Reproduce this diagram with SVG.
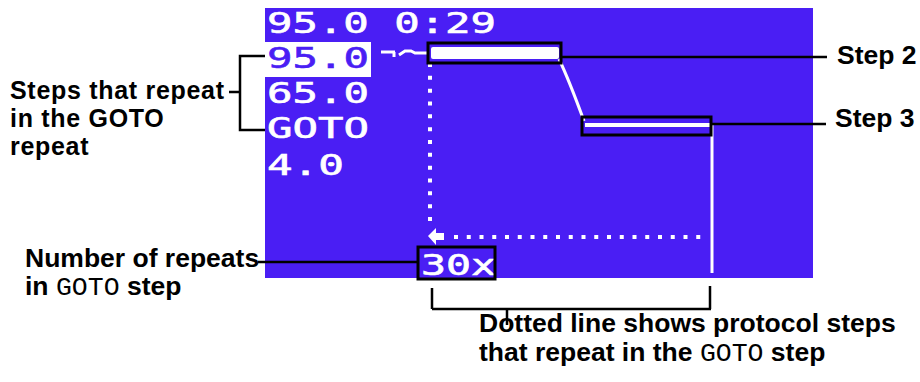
<svg xmlns="http://www.w3.org/2000/svg" width="920" height="382" viewBox="0 0 920 382">
<style>
.lbl{font-family:"Liberation Sans",Arial,sans-serif;font-weight:bold;font-size:26.5px;fill:#000}
.sm{font-size:25px;letter-spacing:0.7px}
.mono{font-family:"Liberation Mono","Courier New",monospace;font-weight:normal;font-size:26.5px;letter-spacing:0}
.lcd{font-family:"DejaVu Sans Mono",monospace;font-weight:normal;font-size:28px;fill:#fff;stroke:#fff;stroke-width:0.6}
.ln{stroke:#000;stroke-width:2.5;fill:none}
.box{stroke:#000;stroke-width:3;fill:none}
.w{stroke:#fff;fill:none}
</style>
<rect width="920" height="382" fill="#fff"/>
<g id="screen">
<rect x="265" y="8" width="548" height="270" fill="#4a1ef4"/>
<text class="lcd" x="267" y="33" textLength="229" lengthAdjust="spacingAndGlyphs">95.0 0:29</text>
<rect x="265" y="42" width="106" height="35" fill="#fff"/>
<text class="lcd" x="267" y="68" textLength="102" lengthAdjust="spacingAndGlyphs" style="fill:#4a1ef4;stroke:#4a1ef4">95.0</text>
<text class="lcd" x="267" y="103" textLength="102" lengthAdjust="spacingAndGlyphs">65.0</text>
<text class="lcd" x="267" y="138" textLength="102" lengthAdjust="spacingAndGlyphs">GOTO</text>
<text class="lcd" x="267" y="175" textLength="77" lengthAdjust="spacingAndGlyphs">4.0</text>
<text class="lcd" x="421" y="275" textLength="75" lengthAdjust="spacingAndGlyphs">30x</text>
<path class="w" stroke-width="3" d="M381,52 H395 M394,52 V57 M399,55 L405,51 L411,51 L415,53 H428"/>
<rect x="431" y="47" width="128" height="12" rx="2" fill="#fff"/>
<path class="w" stroke-width="3" d="M559,59 Q569,80 584,121"/>
<line class="w" x1="585" y1="125" x2="710" y2="125" stroke-width="4"/>
<line class="w" x1="712" y1="124" x2="712" y2="273" stroke-width="3"/>
<line class="w" x1="430" y1="63" x2="430" y2="225" stroke-width="4" stroke-dasharray="4 8.83"/>
<line class="w" x1="454" y1="237" x2="704" y2="237" stroke-width="4" stroke-dasharray="4 8.75"/>
<path d="M428,236 L436,228 L436,233 L444,233 L444,240 L436,240 L436,245 Z" fill="#fff"/>
</g>
<g id="connectors">
<rect class="box" x="428" y="43" width="133" height="20"/>
<rect class="box" x="582" y="117" width="129" height="18"/>
<rect class="box" x="418" y="247" width="77" height="32"/>
<path class="ln" d="M561,57 H827"/>
<path class="ln" d="M711,124 H826"/>
<path class="ln" d="M265,56 H240 V130 H265 M229,92 H240"/>
<path class="ln" d="M258,262 H418"/>
<path class="ln" d="M432,288 V309 M432,309 H711 M710,286 V309 M507,309 V325"/>
</g>
<g id="label-steps">
<text class="lbl sm" x="10" y="99">Steps that repeat</text>
<text class="lbl sm" x="10" y="127">in the GOTO</text>
<text class="lbl sm" x="10" y="155">repeat</text>
</g>
<g id="label-repeats">
<text class="lbl" x="25" y="267">Number of repeats</text>
<text class="lbl" x="25" y="295">in <tspan class="mono">GOTO</tspan> step</text>
</g>
<g id="label-step2"><text class="lbl" x="837" y="64">Step 2</text></g>
<g id="label-step3"><text class="lbl" x="835" y="127">Step 3</text></g>
<g id="label-dotted">
<text class="lbl" x="479" y="332">Dotted line shows protocol steps</text>
<text class="lbl" x="479" y="361">that repeat in the <tspan class="mono">GOTO</tspan> step</text>
</g>
</svg>
